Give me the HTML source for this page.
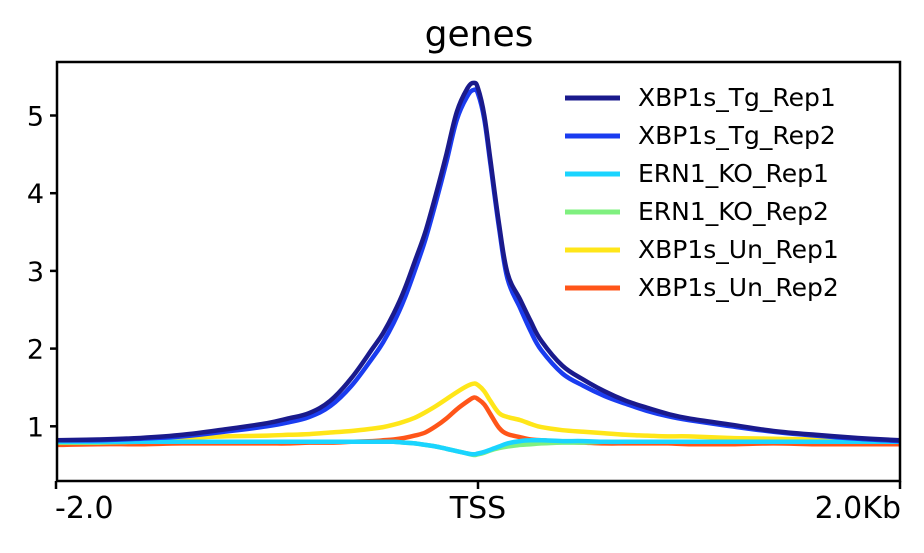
<!DOCTYPE html>
<html><head><meta charset="utf-8"><style>
body{margin:0;background:#fff;}
svg text{font-family:"DejaVu Sans","Liberation Sans",sans-serif;fill:#000;}
</style></head><body>
<svg id="chart" width="924" height="548">
<text x="479" y="46" font-size="36" text-anchor="middle">genes</text>
<g id="plot"></g>
</svg>
<script>
const xs=[-2,-1.8,-1.6,-1.4,-1.2,-1.0,-0.9,-0.8,-0.7,-0.6,-0.5,-0.45,-0.4,-0.35,-0.3,-0.25,-0.2,-0.15,-0.1,-0.05,-0.02,0,0.03,0.06,0.1,0.14,0.2,0.25,0.3,0.4,0.5,0.6,0.7,0.8,0.9,1.0,1.2,1.4,1.6,1.8,2.0];
const tgRep1=[.82,.83,.85,.89,.96,1.04,1.1,1.17,1.33,1.62,2.0,2.2,2.45,2.75,3.12,3.5,3.98,4.5,5.05,5.35,5.42,5.35,5.0,4.4,3.6,2.97,2.63,2.35,2.1,1.78,1.6,1.45,1.33,1.24,1.16,1.1,1.02,.94,.89,.85,.82];
const tgRep2=[.82,.82,.84,.87,.93,1.0,1.05,1.12,1.26,1.52,1.88,2.08,2.33,2.63,3.0,3.4,3.88,4.4,4.95,5.25,5.33,5.28,4.95,4.35,3.55,2.9,2.52,2.22,1.98,1.68,1.52,1.39,1.29,1.2,1.13,1.08,1.0,.93,.88,.84,.81];
const koRep1=[.8,.8,.8,.8,.8,.8,.8,.8,.8,.8,.8,.8,.8,.79,.78,.76,.74,.71,.68,.65,.64,.65,.67,.7,.74,.78,.81,.82,.82,.81,.81,.8,.8,.8,.8,.8,.8,.8,.8,.8,.8];
const koRep2=[.79,.79,.8,.8,.8,.8,.8,.8,.8,.8,.8,.8,.8,.79,.78,.76,.74,.71,.68,.65,.63,.64,.66,.69,.72,.74,.76,.77,.78,.79,.79,.8,.8,.8,.8,.8,.8,.8,.8,.8,.8];
const unRep1=[.8,.81,.83,.85,.87,.88,.89,.9,.92,.94,.97,.99,1.02,1.06,1.11,1.18,1.26,1.35,1.44,1.52,1.55,1.53,1.45,1.32,1.17,1.12,1.08,1.03,.99,.95,.93,.91,.89,.88,.87,.87,.85,.84,.83,.81,.8];
const unRep2=[.76,.77,.77,.78,.78,.78,.78,.79,.79,.8,.81,.82,.83,.85,.88,.92,1.0,1.1,1.22,1.32,1.37,1.35,1.28,1.15,.98,.9,.86,.83,.82,.8,.79,.78,.78,.78,.78,.77,.77,.78,.77,.77,.77];
const seriesNames=["XBP1s_Tg_Rep1","XBP1s_Tg_Rep2","ERN1_KO_Rep1","ERN1_KO_Rep2","XBP1s_Un_Rep1","XBP1s_Un_Rep2"];
const seriesColors=["#1a1a8c","#1a3cf0","#1ad4ff","#7ff07f","#ffe619","#ff5519"];
const yTicks=[1,2,3,4,5];
const xTickVals=[-2,0,2];
const xTickLabels=["-2.0","TSS","2.0Kb"];
const series=[tgRep1,tgRep2,koRep1,koRep2,unRep1,unRep2];

const L=57,R=900,T=62,B=481;
const xS=v=>478+(v)*(R-478)/2;
const yS=v=>504-v*77.7;
const NS="http://www.w3.org/2000/svg";
const g=document.getElementById('plot');
function mk(t,a){const e=document.createElementNS(NS,t);for(const k in a)e.setAttribute(k,a[k]);g.appendChild(e);return e;}
function smooth(pts){
  let d='M'+pts[0][0].toFixed(1)+','+pts[0][1].toFixed(1);
  for(let i=0;i<pts.length-1;i++){
    const p0=pts[Math.max(0,i-1)],p1=pts[i],p2=pts[i+1],p3=pts[Math.min(pts.length-1,i+2)];
    const t=0.18;
    const c1=[p1[0]+(p2[0]-p0[0])*t,p1[1]+(p2[1]-p0[1])*t];
    const c2=[p2[0]-(p3[0]-p1[0])*t,p2[1]-(p3[1]-p1[1])*t];
    d+='C'+c1[0].toFixed(1)+','+c1[1].toFixed(1)+' '+c2[0].toFixed(1)+','+c2[1].toFixed(1)+' '+p2[0].toFixed(1)+','+p2[1].toFixed(1);
  }
  return d;
}
for(let s=series.length-1;s>=0;s--){
  const pts=series[s].map((v,i)=>[xS(xs[i]),yS(v)]);
  const p=mk('path',{d:smooth(pts),fill:'none',stroke:seriesColors[s],'stroke-width':4.5,'stroke-linejoin':'round'});
  
  
}
const frame=mk('rect',{x:L,y:T,width:R-L,height:B-T,fill:'none',stroke:'#000','stroke-width':2.5});


yTicks.forEach(v=>{
  const tl=mk('line',{x1:L-7,x2:L,y1:yS(v),y2:yS(v),stroke:'#000','stroke-width':2.5});
  
  
  const t=mk('text',{x:L-13,y:yS(v)+10,'font-size':27,'text-anchor':'end'});
  t.textContent=v;
  
  
});
xTickVals.forEach((v,i)=>{
  const tl=mk('line',{x1:xS(v),x2:xS(v),y1:B,y2:B+8,stroke:'#000','stroke-width':2.5});
  
  
  const anchor=i==0?'start':(i==2?'end':'middle');
  const t=mk('text',{x:xS(v)+(i==0?-1:(i==2?1:0)),y:B+37,'font-size':30,'text-anchor':anchor});
  t.textContent=xTickLabels[i];
  
  
});
seriesNames.forEach((n,i)=>{
  const y=98+i*38;
  const l=mk('line',{x1:565,x2:620,y1:y,y2:y,stroke:seriesColors[i],'stroke-width':5});
  
  
  const t=mk('text',{x:638,y:y+8,'font-size':25});
  t.textContent=n;
  
  
});
</script>
</body></html>
